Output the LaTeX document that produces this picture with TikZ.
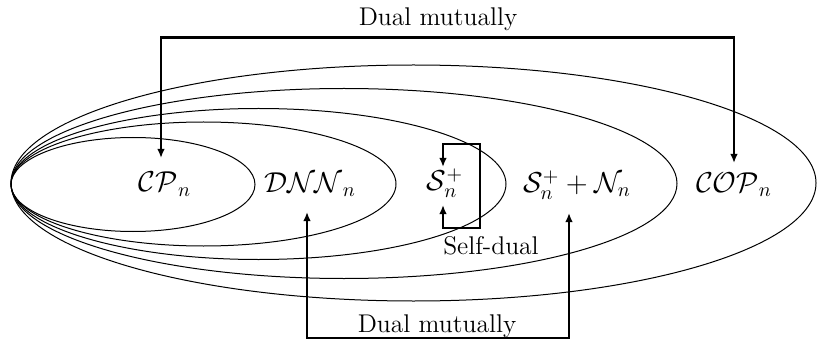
\documentclass[tikz,border=0pt]{standalone}
\usetikzlibrary{arrows.meta}
\begin{document}
\begin{tikzpicture}[x=0.5pt,y=-0.5pt,
  setline/.style={line width=0.5pt},
  tipA/.tip={Latex[length=4.5pt,width=3.8pt]},
  dual/.style={line width=1.25pt,tipA-tipA},
  lab/.style={font=\fontsize{14.6}{17}\selectfont, inner sep=1pt},
  txt/.style={font=\fontsize{12.8}{15}\selectfont, inner sep=0pt, anchor=base}]
\useasboundingbox (0,0) rectangle (817,347);
% nested sets
\draw[setline] (133,184.5) ellipse [x radius=61pt, y radius=23.5pt];
\draw[setline] (203.5,184) ellipse [x radius=96.25pt, y radius=31pt];
\draw[setline] (258.5,184) ellipse [x radius=123.75pt, y radius=37.75pt];
\draw[setline] (344,183.5) ellipse [x radius=166.5pt, y radius=47.5pt];
\draw[setline] (413.5,183) ellipse [x radius=201.25pt, y radius=59pt];
% labels
\node[lab] (cp) at (165,184) {$\mathcal{CP}_n$};
\node[lab] (dnn) at (310,185) {$\mathcal{DNN}_n$};
\node[lab] (sp) at (445,183) {$\mathcal{S}_n^+$};
\node[lab] (spn) at (577,185) {$\mathcal{S}_n^+ + \mathcal{N}_n$};
\node[lab] (cop) at (734,185) {$\mathcal{COP}_n$};
\node[txt] (toplab) at (438,26) {Dual mutually};
\node[txt] (botlab) at (437,332) {Dual mutually};
\node[txt] (selflab) at (491,254) {Self-dual};
% connector ends
\coordinate (cpin) at (161,158);
\coordinate (copin) at (734,163);
\coordinate (topbar) at (438,37.5);
\coordinate (dnnin) at (307,212);
\coordinate (spnin) at (569,213);
\coordinate (botbar) at (437,338);
\coordinate (spup) at (443,167);
\coordinate (spdown) at (443,205);
\coordinate (loopbl) at (443,228);
\coordinate (looptr) at (480,144);
% connectors
\draw[dual] (cpin) |- (topbar) -| (copin);
\draw[dual] (dnnin) |- (botbar) -| (spnin);
\draw[dual] (spdown) -- (loopbl) -| (looptr) -| (spup);
\end{tikzpicture}
\end{document}
